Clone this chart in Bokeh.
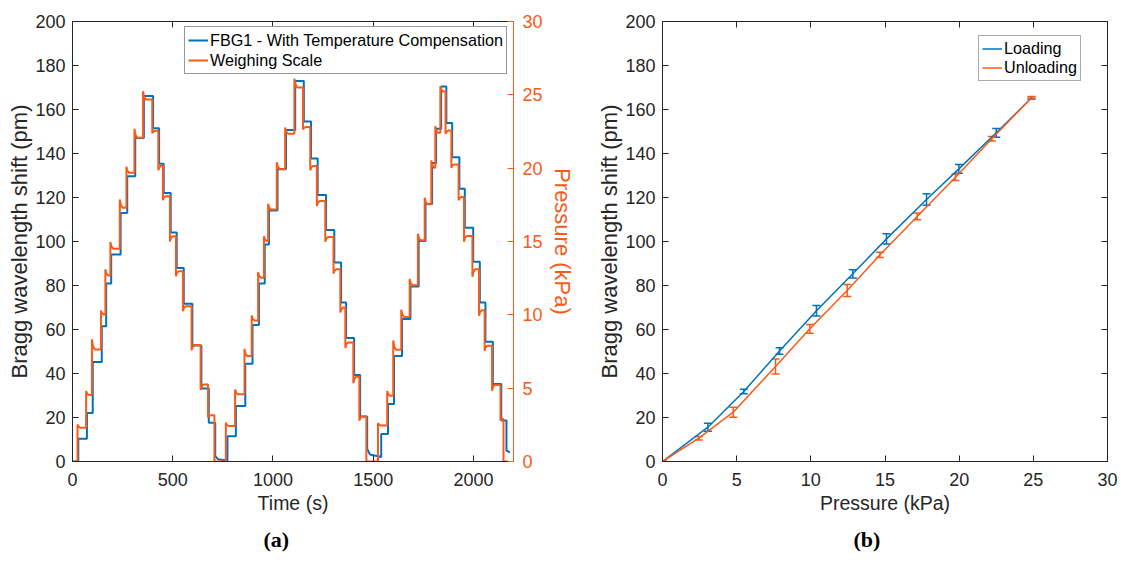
from bokeh.plotting import figure
from bokeh.models import (Range1d, LinearAxis, Legend, LegendItem, Title,
                          ColumnDataSource, Whisker, TeeHead, FixedTicker,
                          CustomLabelingPolicy)
from bokeh.layouts import row
from bokeh.embed import file_html
from bokeh.resources import INLINE

# ---------------- data: panel (a) ----------------
# step start times (s); index 0 is the start of the record
step_t = [0, 25, 68, 97, 142, 164, 189, 236, 269, 309, 352, 398, 428, 451, 486, 516, 551, 594, 639, 676, 708,
          765, 811, 858, 894, 926, 955, 976, 1019, 1061, 1107, 1150, 1186, 1219, 1261, 1302, 1336, 1361, 1401, 1431, 1466,
          1524, 1570, 1600, 1640, 1682, 1723, 1757, 1790, 1810, 1835, 1861, 1890, 1926, 1953, 1995, 2028, 2056, 2093, 2135, 2150]
t_end = 2177
# FBG1 Bragg wavelength shift level of each step (pm)
fbg_pm = [0, 10.3, 22.1, 45.2, 61.5, 80.9, 94.1, 113.0, 129.7, 147.1, 166.1, 151.5, 135.3, 122.0, 104.1, 88.0, 71.7, 52.7, 33.2, 17.6, 2.4,
          11.5, 25.2, 44.4, 62.0, 80.9, 98.6, 114.1, 132.8, 150.7, 173.0, 154.6, 137.7, 121.1, 105.2, 90.4, 72.3, 56.1, 39.3, 20.4, 5.8,
          12.5, 26.1, 48.0, 64.8, 79.5, 100.2, 117.1, 135.7, 151.3, 170.5, 153.9, 138.3, 124.0, 106.3, 90.8, 72.3, 54.4, 35.2, 18.6, 5.0]
# FBG1 residual level reached at the end of the unloaded steps (pm)
fbg_tail = {20: 0.5, 40: 2.0, 60: 4.0}
# FBG1 step times that lag more than usual (s)
fbg_t_override = {21: 773, 41: 1540, 60: 2165}
# weighing scale: transient (overshoot / undershoot) and settled pressure of each step (kPa)
scale_peak = [0, 2.52, 4.80, 8.33, 10.29, 13.10, 14.96, 17.87, 20.09, 22.68, 25.25, 22.38, 19.86, 17.82, 15.00, 12.63, 10.25, 7.58, 4.88, 3.00, 0,
              2.64, 4.91, 7.68, 9.96, 12.92, 15.36, 17.57, 20.40, 22.77, 26.10, 22.64, 19.85, 17.42, 14.99, 12.81, 10.16, 7.74, 5.33, 2.79, 0,
              2.63, 4.80, 8.25, 10.35, 12.45, 15.53, 17.99, 20.52, 22.86, 25.58, 22.34, 20.03, 17.81, 14.99, 12.59, 9.93, 7.55, 4.83, 2.79, 0]
scale_kpa = [0, 2.30, 4.53, 7.64, 10.02, 12.68, 14.51, 17.30, 19.68, 22.07, 24.68, 22.55, 20.18, 18.09, 15.36, 12.98, 10.59, 7.94, 5.25, 3.15, 0,
             2.42, 4.58, 7.19, 9.62, 12.53, 15.03, 17.18, 19.95, 22.34, 25.50, 22.80, 20.15, 17.76, 15.30, 13.11, 10.50, 8.12, 5.78, 3.06, 0,
             2.45, 4.49, 7.62, 9.86, 12.02, 15.08, 17.54, 20.03, 22.41, 25.23, 22.56, 20.25, 18.03, 15.38, 13.11, 10.32, 7.89, 5.22, 2.90, 0]

# ---------------- data: panel (b) ----------------
load_p = [0, 3.06, 5.48, 7.89, 10.38, 12.83, 15.10, 17.80, 19.98, 22.50, 24.88]
load_pm = [0, 15.6, 31.8, 50.2, 68.5, 85.3, 101.2, 119.1, 133.0, 149.4, 165.3]
load_err = [0.3, 1.8, 1.0, 1.5, 2.4, 1.9, 2.3, 2.6, 2.0, 2.0, 0.5]
unload_p = [0, 2.45, 4.77, 7.62, 9.93, 12.45, 14.65, 17.17, 19.75, 22.20, 24.88]
unload_pm = [0, 10.6, 22.4, 43.2, 60.3, 77.7, 93.9, 111.4, 129.2, 146.7, 165.3]
unload_err = [0.3, 0.8, 2.3, 3.4, 2.0, 2.7, 1.2, 1.5, 1.5, 1.0, 0.6]

x_ticks_a = [0, 500, 1000, 1500, 2000]
y_ticks = list(range(0, 201, 20))
p_ticks = [0, 5, 10, 15, 20, 25, 30]
x_ticks_b = [0, 5, 10, 15, 20, 25, 30]

BLUE = "#0072BD"
ORANGE = "#F85A18"
AX = "#262626"
FONT = "Liberation Sans"

NO_LABELS = CustomLabelingPolicy(code="""
try { return new indices.constructor(indices.size) } catch (e) { return indices }
""")


def style_axis(ax, ticks, color=AX, labels=True, standoff=7):
    ax.ticker = FixedTicker(ticks=ticks)
    ax.major_tick_in = 6
    ax.major_tick_out = 0
    ax.minor_tick_line_color = None
    ax.axis_line_color = color
    ax.axis_line_width = 1
    ax.major_tick_line_color = color
    ax.major_label_text_color = color
    ax.major_label_text_font = FONT
    if labels:
        ax.major_label_text_font_size = "18px"
        ax.major_label_standoff = standoff
    else:
        ax.major_label_text_font_size = "0px"
        ax.major_label_standoff = 0
        ax.major_label_policy = NO_LABELS
    ax.axis_label_text_font = FONT
    ax.axis_label_text_font_style = "normal"
    ax.axis_label_text_color = color


def base_fig(w, h, left, right, top, bottom, xr, yr):
    p = figure(width=w, height=h, x_range=xr, y_range=yr,
               output_backend="svg", toolbar_location=None,
               min_border_left=left, min_border_right=right,
               min_border_top=top, min_border_bottom=bottom)
    p.xgrid.visible = False
    p.ygrid.visible = False
    p.outline_line_color = None
    p.background_fill_color = "white"
    p.border_fill_color = "white"
    return p


def panel_title(text):
    return Title(text=text, align="left", offset=191, standoff=16,
                 text_font="Liberation Serif", text_font_style="bold",
                 text_font_size="22px", text_color="black")


# ---------------- panel (a) ----------------
p1 = base_fig(590, 562, 72, 77, 20, 101, Range1d(0, 2200), Range1d(0, 200))
p1.extra_y_ranges = {"p": Range1d(0, 30)}

bt, by = [0.0], [0.0]
prev = 0.0
n = len(step_t)
for i in range(1, n):
    t = fbg_t_override.get(i, step_t[i] + 4)
    bt += [t, t]
    by += [prev, fbg_pm[i]]
    prev = fbg_pm[i]
    if i in fbg_tail:
        end = fbg_tail[i]
        bt += [t + 14]
        by += [end + 0.3 * (fbg_pm[i] - end)]
        prev = end
bt.append(t_end)
by.append(prev)

ot, oy = [0.0], [0.0]
prev = 0.0
for i in range(1, n):
    t = step_t[i]
    tr, st = scale_peak[i], scale_kpa[i]
    ot += [t, t, t + 5, t + 14]
    oy += [prev, tr, st + 0.35 * (tr - st), st]
    prev = st
ot.append(t_end)
oy.append(prev)

r_b = p1.line(bt, by, line_color=BLUE, line_width=2)
r_o = p1.line(ot, oy, line_color=ORANGE, line_width=2, y_range_name="p")

style_axis(p1.xaxis[0], x_ticks_a, standoff=11)
p1.xaxis[0].axis_label = "Time (s)"
p1.xaxis[0].axis_label_text_font_size = "19.5px"
p1.xaxis[0].axis_label_standoff = 3
style_axis(p1.yaxis[0], y_ticks)
p1.yaxis[0].axis_label = "Bragg wavelength shift (pm)"
p1.yaxis[0].axis_label_text_font_size = "22px"
p1.yaxis[0].axis_label_standoff = 0

ax_r = LinearAxis(y_range_name="p", axis_label="Pressure (kPa)")
style_axis(ax_r, p_ticks, color=ORANGE, standoff=9)
ax_r.axis_label_text_font_size = "22px"
ax_r.axis_label_standoff = 4
p1.add_layout(ax_r, "right")
ax_t = LinearAxis()
style_axis(ax_t, x_ticks_a, labels=False)
p1.add_layout(ax_t, "above")

leg1 = Legend(items=[LegendItem(label="FBG1 - With Temperature Compensation", renderers=[r_b]),
                     LegendItem(label="Weighing Scale", renderers=[r_o])],
              location=(112, 387), margin=0, padding=3, spacing=0,
              label_height=20, glyph_height=20, glyph_width=20, label_standoff=2,
              label_text_font=FONT, label_text_font_size="16.2px", label_text_color="black",
              border_line_color="#333333", border_line_width=1.5,
              background_fill_color="white", background_fill_alpha=1)
p1.add_layout(leg1)
p1.add_layout(panel_title("(a)"), "below")

# ---------------- panel (b) ----------------
p2 = base_fig(531, 562, 72, 14, 21, 101, Range1d(0, 30), Range1d(0, 200))
r_l = p2.line(load_p, load_pm, line_color=BLUE, line_width=1.5)
r_u = p2.line(unload_p, unload_pm, line_color=ORANGE, line_width=1.5)

for xs, ys, es, col in [(load_p, load_pm, load_err, BLUE), (unload_p, unload_pm, unload_err, ORANGE)]:
    src = ColumnDataSource(dict(x=xs, upper=[y + e for y, e in zip(ys, es)],
                                lower=[y - e for y, e in zip(ys, es)]))
    w = Whisker(base="x", upper="upper", lower="lower", source=src,
                line_color=col, line_width=1.5,
                upper_head=TeeHead(size=8, line_color=col, line_width=1.5),
                lower_head=TeeHead(size=8, line_color=col, line_width=1.5))
    p2.add_layout(w)

style_axis(p2.xaxis[0], x_ticks_b, standoff=11)
p2.xaxis[0].axis_label = "Pressure (kPa)"
p2.xaxis[0].axis_label_text_font_size = "19.5px"
p2.xaxis[0].axis_label_standoff = 3
style_axis(p2.yaxis[0], y_ticks)
p2.yaxis[0].axis_label = "Bragg wavelength shift (pm)"
p2.yaxis[0].axis_label_text_font_size = "22px"
p2.yaxis[0].axis_label_standoff = 0
ax_r2 = LinearAxis()
style_axis(ax_r2, y_ticks, labels=False)
p2.add_layout(ax_r2, "right")
ax_t2 = LinearAxis()
style_axis(ax_t2, x_ticks_b, labels=False)
p2.add_layout(ax_t2, "above")

leg2 = Legend(items=[LegendItem(label="Loading", renderers=[r_l]),
                     LegendItem(label="Unloading", renderers=[r_u])],
              location=(316, 380), margin=0, padding=3, spacing=0,
              label_height=19, glyph_height=19, glyph_width=20, label_standoff=2,
              label_text_font=FONT, label_text_font_size="16.2px", label_text_color="black",
              border_line_color="#555555", border_line_width=1.5,
              background_fill_color="white", background_fill_alpha=1)
p2.add_layout(leg2)
p2.add_layout(panel_title("(b)"), "below")

layout = row(p1, p2)
open("out.html", "w").write(file_html(layout, INLINE))
